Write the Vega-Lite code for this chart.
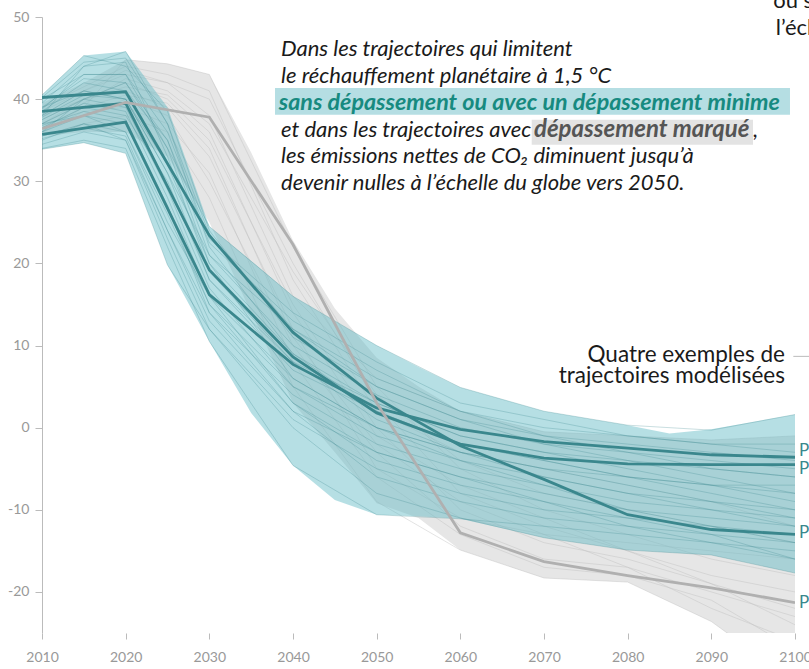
{
  "$schema": "https://vega.github.io/schema/vega-lite/v6.json",
  "width": 753,
  "height": 616,
  "autosize": {"type": "none"},
  "padding": {"left": 42, "top": 17, "right": 14, "bottom": 36},
  "background": "white",
  "config": {
    "view": {"stroke": null},
    "font": "Lato",
    "axis": {"labelFont": "Lato", "labelFontSize": 14, "labelColor": "#999999", "tickColor": "#bbbbbb", "domainColor": "#bbbbbb", "grid": false, "title": null}
  },
  "datasets": {
    "tealBand": [
      {"year": 2010, "lo": 33.9, "hi": 40.5},
      {"year": 2015, "lo": 34.7, "hi": 45.3},
      {"year": 2020, "lo": 33.4, "hi": 45.8},
      {"year": 2025, "lo": 19.8, "hi": 39.0},
      {"year": 2030, "lo": 10.5, "hi": 24.5},
      {"year": 2035, "lo": 1.8, "hi": 20.3},
      {"year": 2040, "lo": -4.6, "hi": 16.0},
      {"year": 2045, "lo": -8.8, "hi": 13.0},
      {"year": 2050, "lo": -10.6, "hi": 10.0},
      {"year": 2055, "lo": -10.8, "hi": 7.4},
      {"year": 2060, "lo": -11.1, "hi": 4.9},
      {"year": 2070, "lo": -13.4, "hi": 2.0},
      {"year": 2080, "lo": -14.9, "hi": 0.3},
      {"year": 2085, "lo": -15.2, "hi": -0.7},
      {"year": 2090, "lo": -15.5, "hi": -0.2},
      {"year": 2100, "lo": -17.7, "hi": 1.6}
    ],
    "grayBand": [
      {"year": 2010, "lo": 35.5, "hi": 39.5},
      {"year": 2015, "lo": 36, "hi": 42},
      {"year": 2020, "lo": 36, "hi": 44.8},
      {"year": 2025, "lo": 33, "hi": 44.3},
      {"year": 2030, "lo": 25, "hi": 43},
      {"year": 2035, "lo": 14, "hi": 33.5},
      {"year": 2040, "lo": 3, "hi": 22.8},
      {"year": 2045, "lo": -3, "hi": 14.5},
      {"year": 2050, "lo": -9.2, "hi": 8.5},
      {"year": 2055, "lo": -11, "hi": 5},
      {"year": 2060, "lo": -14.9, "hi": 2},
      {"year": 2070, "lo": -18.3, "hi": -0.5},
      {"year": 2080, "lo": -18.8, "hi": -1},
      {"year": 2090, "lo": -23.6, "hi": -1.5},
      {"year": 2100, "lo": -31, "hi": -1}
    ],
    "thin": [
      {"k":"t1","c":"low","x":2010,"v":40.5},{"k":"t1","c":"low","x":2015,"v":45.3},{"k":"t1","c":"low","x":2020,"v":44},{"k":"t1","c":"low","x":2025,"v":38.5},{"k":"t1","c":"low","x":2030,"v":24},{"k":"t1","c":"low","x":2040,"v":11},{"k":"t1","c":"low","x":2050,"v":5},{"k":"t1","c":"low","x":2060,"v":1},{"k":"t1","c":"low","x":2070,"v":-1},{"k":"t1","c":"low","x":2080,"v":-2},{"k":"t1","c":"low","x":2090,"v":-3},{"k":"t1","c":"low","x":2100,"v":-4},
      {"k":"t2","c":"low","x":2010,"v":38},{"k":"t2","c":"low","x":2015,"v":44},{"k":"t2","c":"low","x":2020,"v":45.8},{"k":"t2","c":"low","x":2025,"v":37},{"k":"t2","c":"low","x":2030,"v":22},{"k":"t2","c":"low","x":2040,"v":9},{"k":"t2","c":"low","x":2050,"v":3},{"k":"t2","c":"low","x":2060,"v":-1},{"k":"t2","c":"low","x":2070,"v":-3},{"k":"t2","c":"low","x":2080,"v":-5},{"k":"t2","c":"low","x":2090,"v":-7},{"k":"t2","c":"low","x":2100,"v":-9},
      {"k":"t3","c":"low","x":2010,"v":36},{"k":"t3","c":"low","x":2015,"v":40},{"k":"t3","c":"low","x":2020,"v":42},{"k":"t3","c":"low","x":2025,"v":34},{"k":"t3","c":"low","x":2030,"v":24.5},{"k":"t3","c":"low","x":2040,"v":16},{"k":"t3","c":"low","x":2050,"v":10},{"k":"t3","c":"low","x":2060,"v":4.9},{"k":"t3","c":"low","x":2070,"v":2},{"k":"t3","c":"low","x":2080,"v":0.3},{"k":"t3","c":"low","x":2090,"v":-0.3},{"k":"t3","c":"low","x":2100,"v":1.6},
      {"k":"t4","c":"low","x":2010,"v":34},{"k":"t4","c":"low","x":2015,"v":35},{"k":"t4","c":"low","x":2020,"v":34},{"k":"t4","c":"low","x":2025,"v":22},{"k":"t4","c":"low","x":2030,"v":10.5},{"k":"t4","c":"low","x":2040,"v":-4.6},{"k":"t4","c":"low","x":2050,"v":-10.6},{"k":"t4","c":"low","x":2060,"v":-11.1},{"k":"t4","c":"low","x":2070,"v":-12},{"k":"t4","c":"low","x":2080,"v":-13},{"k":"t4","c":"low","x":2090,"v":-14},{"k":"t4","c":"low","x":2100,"v":-15},
      {"k":"t5","c":"low","x":2010,"v":33.9},{"k":"t5","c":"low","x":2015,"v":34.7},{"k":"t5","c":"low","x":2020,"v":33.4},{"k":"t5","c":"low","x":2025,"v":19.8},{"k":"t5","c":"low","x":2030,"v":12},{"k":"t5","c":"low","x":2040,"v":0},{"k":"t5","c":"low","x":2050,"v":-8},{"k":"t5","c":"low","x":2060,"v":-11},{"k":"t5","c":"low","x":2070,"v":-13.4},{"k":"t5","c":"low","x":2080,"v":-14.9},{"k":"t5","c":"low","x":2090,"v":-15.5},{"k":"t5","c":"low","x":2100,"v":-17.7},
      {"k":"t6","c":"low","x":2010,"v":37},{"k":"t6","c":"low","x":2015,"v":38},{"k":"t6","c":"low","x":2020,"v":36},{"k":"t6","c":"low","x":2025,"v":26},{"k":"t6","c":"low","x":2030,"v":15},{"k":"t6","c":"low","x":2040,"v":3},{"k":"t6","c":"low","x":2050,"v":-3},{"k":"t6","c":"low","x":2060,"v":-6},{"k":"t6","c":"low","x":2070,"v":-8},{"k":"t6","c":"low","x":2080,"v":-10},{"k":"t6","c":"low","x":2090,"v":-11},{"k":"t6","c":"low","x":2100,"v":-12},
      {"k":"t7","c":"low","x":2010,"v":39},{"k":"t7","c":"low","x":2015,"v":41},{"k":"t7","c":"low","x":2020,"v":40},{"k":"t7","c":"low","x":2025,"v":32},{"k":"t7","c":"low","x":2030,"v":20},{"k":"t7","c":"low","x":2040,"v":6},{"k":"t7","c":"low","x":2050,"v":0},{"k":"t7","c":"low","x":2060,"v":-3},{"k":"t7","c":"low","x":2070,"v":-5},{"k":"t7","c":"low","x":2080,"v":-7},{"k":"t7","c":"low","x":2090,"v":-9},{"k":"t7","c":"low","x":2100,"v":-11},
      {"k":"t8","c":"low","x":2010,"v":36.5},{"k":"t8","c":"low","x":2015,"v":39},{"k":"t8","c":"low","x":2020,"v":38},{"k":"t8","c":"low","x":2025,"v":30},{"k":"t8","c":"low","x":2030,"v":18},{"k":"t8","c":"low","x":2040,"v":7},{"k":"t8","c":"low","x":2050,"v":2},{"k":"t8","c":"low","x":2060,"v":-2},{"k":"t8","c":"low","x":2070,"v":-4},{"k":"t8","c":"low","x":2080,"v":-6},{"k":"t8","c":"low","x":2090,"v":-8},{"k":"t8","c":"low","x":2100,"v":-10},
      {"k":"t9","c":"low","x":2010,"v":38.5},{"k":"t9","c":"low","x":2015,"v":42},{"k":"t9","c":"low","x":2020,"v":41},{"k":"t9","c":"low","x":2025,"v":35},{"k":"t9","c":"low","x":2030,"v":21},{"k":"t9","c":"low","x":2040,"v":12},{"k":"t9","c":"low","x":2050,"v":6},{"k":"t9","c":"low","x":2060,"v":2},{"k":"t9","c":"low","x":2070,"v":0},{"k":"t9","c":"low","x":2080,"v":-1},{"k":"t9","c":"low","x":2090,"v":-2},{"k":"t9","c":"low","x":2100,"v":-2},
      {"k":"t10","c":"low","x":2010,"v":35},{"k":"t10","c":"low","x":2015,"v":37},{"k":"t10","c":"low","x":2020,"v":35},{"k":"t10","c":"low","x":2025,"v":24},{"k":"t10","c":"low","x":2030,"v":13},{"k":"t10","c":"low","x":2040,"v":2},{"k":"t10","c":"low","x":2050,"v":-6},{"k":"t10","c":"low","x":2060,"v":-9},{"k":"t10","c":"low","x":2070,"v":-11},{"k":"t10","c":"low","x":2080,"v":-12},{"k":"t10","c":"low","x":2090,"v":-13},{"k":"t10","c":"low","x":2100,"v":-14},
      {"k":"t11","c":"low","x":2010,"v":40},{"k":"t11","c":"low","x":2015,"v":43},{"k":"t11","c":"low","x":2020,"v":43},{"k":"t11","c":"low","x":2025,"v":36},{"k":"t11","c":"low","x":2030,"v":23},{"k":"t11","c":"low","x":2040,"v":14},{"k":"t11","c":"low","x":2050,"v":8},{"k":"t11","c":"low","x":2060,"v":3},{"k":"t11","c":"low","x":2070,"v":1},{"k":"t11","c":"low","x":2080,"v":-1},{"k":"t11","c":"low","x":2090,"v":-2},{"k":"t11","c":"low","x":2100,"v":-3},
      {"k":"t12","c":"low","x":2010,"v":37.5},{"k":"t12","c":"low","x":2015,"v":40},{"k":"t12","c":"low","x":2020,"v":39},{"k":"t12","c":"low","x":2025,"v":29},{"k":"t12","c":"low","x":2030,"v":17},{"k":"t12","c":"low","x":2040,"v":5},{"k":"t12","c":"low","x":2050,"v":-1},{"k":"t12","c":"low","x":2060,"v":-4},{"k":"t12","c":"low","x":2070,"v":-6},{"k":"t12","c":"low","x":2080,"v":-8},{"k":"t12","c":"low","x":2090,"v":-9},{"k":"t12","c":"low","x":2100,"v":-10},
      {"k":"t13","c":"low","x":2010,"v":39.5},{"k":"t13","c":"low","x":2015,"v":44},{"k":"t13","c":"low","x":2020,"v":44.5},{"k":"t13","c":"low","x":2025,"v":33},{"k":"t13","c":"low","x":2030,"v":19},{"k":"t13","c":"low","x":2040,"v":8},{"k":"t13","c":"low","x":2050,"v":1},{"k":"t13","c":"low","x":2060,"v":-3},{"k":"t13","c":"low","x":2070,"v":-6},{"k":"t13","c":"low","x":2080,"v":-8},{"k":"t13","c":"low","x":2090,"v":-10},{"k":"t13","c":"low","x":2100,"v":-12},
      {"k":"t14","c":"low","x":2010,"v":36},{"k":"t14","c":"low","x":2015,"v":38},{"k":"t14","c":"low","x":2020,"v":37},{"k":"t14","c":"low","x":2025,"v":27},{"k":"t14","c":"low","x":2030,"v":14},{"k":"t14","c":"low","x":2040,"v":4},{"k":"t14","c":"low","x":2050,"v":-2},{"k":"t14","c":"low","x":2060,"v":-5},{"k":"t14","c":"low","x":2070,"v":-7},{"k":"t14","c":"low","x":2080,"v":-9},{"k":"t14","c":"low","x":2090,"v":-10},{"k":"t14","c":"low","x":2100,"v":-11},
      {"k":"t15","c":"low","x":2010,"v":38},{"k":"t15","c":"low","x":2015,"v":41},{"k":"t15","c":"low","x":2020,"v":40},{"k":"t15","c":"low","x":2025,"v":31},{"k":"t15","c":"low","x":2030,"v":21},{"k":"t15","c":"low","x":2040,"v":10},{"k":"t15","c":"low","x":2050,"v":4},{"k":"t15","c":"low","x":2060,"v":0},{"k":"t15","c":"low","x":2070,"v":-2},{"k":"t15","c":"low","x":2080,"v":-3},{"k":"t15","c":"low","x":2090,"v":-4},{"k":"t15","c":"low","x":2100,"v":-5},
      {"k":"t16","c":"low","x":2010,"v":35.5},{"k":"t16","c":"low","x":2015,"v":37},{"k":"t16","c":"low","x":2020,"v":36},{"k":"t16","c":"low","x":2025,"v":25},{"k":"t16","c":"low","x":2030,"v":16},{"k":"t16","c":"low","x":2040,"v":6},{"k":"t16","c":"low","x":2050,"v":0},{"k":"t16","c":"low","x":2060,"v":-4},{"k":"t16","c":"low","x":2070,"v":-7},{"k":"t16","c":"low","x":2080,"v":-10},{"k":"t16","c":"low","x":2090,"v":-12},{"k":"t16","c":"low","x":2100,"v":-14},
      {"k":"t17","c":"low","x":2010,"v":39},{"k":"t17","c":"low","x":2015,"v":42.5},{"k":"t17","c":"low","x":2020,"v":42},{"k":"t17","c":"low","x":2025,"v":35},{"k":"t17","c":"low","x":2030,"v":22.5},{"k":"t17","c":"low","x":2040,"v":13},{"k":"t17","c":"low","x":2050,"v":7},{"k":"t17","c":"low","x":2060,"v":2},{"k":"t17","c":"low","x":2070,"v":-1},{"k":"t17","c":"low","x":2080,"v":-3},{"k":"t17","c":"low","x":2090,"v":-5},{"k":"t17","c":"low","x":2100,"v":-6},
      {"k":"t18","c":"low","x":2010,"v":37},{"k":"t18","c":"low","x":2015,"v":39.5},{"k":"t18","c":"low","x":2020,"v":38.5},{"k":"t18","c":"low","x":2025,"v":28},{"k":"t18","c":"low","x":2030,"v":16},{"k":"t18","c":"low","x":2040,"v":3},{"k":"t18","c":"low","x":2050,"v":-4},{"k":"t18","c":"low","x":2060,"v":-7},{"k":"t18","c":"low","x":2070,"v":-9},{"k":"t18","c":"low","x":2080,"v":-11},{"k":"t18","c":"low","x":2090,"v":-12},{"k":"t18","c":"low","x":2100,"v":-13},
      {"k":"t19","c":"low","x":2010,"v":34.5},{"k":"t19","c":"low","x":2015,"v":36},{"k":"t19","c":"low","x":2020,"v":35},{"k":"t19","c":"low","x":2025,"v":23},{"k":"t19","c":"low","x":2030,"v":12},{"k":"t19","c":"low","x":2040,"v":1},{"k":"t19","c":"low","x":2050,"v":-5},{"k":"t19","c":"low","x":2060,"v":-8},{"k":"t19","c":"low","x":2070,"v":-10},{"k":"t19","c":"low","x":2080,"v":-11},{"k":"t19","c":"low","x":2090,"v":-13},{"k":"t19","c":"low","x":2100,"v":-16},
      {"k":"t20","c":"low","x":2010,"v":38.8},{"k":"t20","c":"low","x":2015,"v":43},{"k":"t20","c":"low","x":2020,"v":43},{"k":"t20","c":"low","x":2025,"v":34},{"k":"t20","c":"low","x":2030,"v":20},{"k":"t20","c":"low","x":2040,"v":9},{"k":"t20","c":"low","x":2050,"v":2},{"k":"t20","c":"low","x":2060,"v":-2},{"k":"t20","c":"low","x":2070,"v":-4},{"k":"t20","c":"low","x":2080,"v":-6},{"k":"t20","c":"low","x":2090,"v":-7},{"k":"t20","c":"low","x":2100,"v":-8},
      {"k":"t21","c":"low","x":2010,"v":36.8},{"k":"t21","c":"low","x":2015,"v":38.5},{"k":"t21","c":"low","x":2020,"v":37.5},{"k":"t21","c":"low","x":2025,"v":27},{"k":"t21","c":"low","x":2030,"v":15},{"k":"t21","c":"low","x":2040,"v":5},{"k":"t21","c":"low","x":2050,"v":0},{"k":"t21","c":"low","x":2060,"v":-3},{"k":"t21","c":"low","x":2070,"v":-5},{"k":"t21","c":"low","x":2080,"v":-6},{"k":"t21","c":"low","x":2090,"v":-7},{"k":"t21","c":"low","x":2100,"v":-7},
      {"k":"t22","c":"low","x":2010,"v":40.2},{"k":"t22","c":"low","x":2015,"v":44.5},{"k":"t22","c":"low","x":2020,"v":45},{"k":"t22","c":"low","x":2025,"v":37},{"k":"t22","c":"low","x":2030,"v":23.5},{"k":"t22","c":"low","x":2040,"v":12},{"k":"t22","c":"low","x":2050,"v":5},{"k":"t22","c":"low","x":2060,"v":1},{"k":"t22","c":"low","x":2070,"v":-2},{"k":"t22","c":"low","x":2080,"v":-4},{"k":"t22","c":"low","x":2090,"v":-6},{"k":"t22","c":"low","x":2100,"v":-8},
      {"k":"t23","c":"low","x":2010,"v":35.2},{"k":"t23","c":"low","x":2015,"v":36.5},{"k":"t23","c":"low","x":2020,"v":35.5},{"k":"t23","c":"low","x":2025,"v":24},{"k":"t23","c":"low","x":2030,"v":14},{"k":"t23","c":"low","x":2040,"v":2},{"k":"t23","c":"low","x":2050,"v":-3},{"k":"t23","c":"low","x":2060,"v":-6},{"k":"t23","c":"low","x":2070,"v":-9},{"k":"t23","c":"low","x":2080,"v":-12},{"k":"t23","c":"low","x":2090,"v":-14},{"k":"t23","c":"low","x":2100,"v":-16},
      {"k":"t24","c":"low","x":2010,"v":37.8},{"k":"t24","c":"low","x":2015,"v":40.5},{"k":"t24","c":"low","x":2020,"v":40},{"k":"t24","c":"low","x":2025,"v":31},{"k":"t24","c":"low","x":2030,"v":18},{"k":"t24","c":"low","x":2040,"v":8},{"k":"t24","c":"low","x":2050,"v":3},{"k":"t24","c":"low","x":2060,"v":-1},{"k":"t24","c":"low","x":2070,"v":-3},{"k":"t24","c":"low","x":2080,"v":-4},{"k":"t24","c":"low","x":2090,"v":-5},{"k":"t24","c":"low","x":2100,"v":-6},
      {"k":"g1","c":"high","x":2010,"v":36},{"k":"g1","c":"high","x":2015,"v":39},{"k":"g1","c":"high","x":2020,"v":44.8},{"k":"g1","c":"high","x":2025,"v":44.3},{"k":"g1","c":"high","x":2030,"v":43},{"k":"g1","c":"high","x":2040,"v":22},{"k":"g1","c":"high","x":2050,"v":5},{"k":"g1","c":"high","x":2060,"v":-5},{"k":"g1","c":"high","x":2070,"v":-10},{"k":"g1","c":"high","x":2080,"v":-13},{"k":"g1","c":"high","x":2090,"v":-16},{"k":"g1","c":"high","x":2100,"v":-18},
      {"k":"g2","c":"high","x":2010,"v":38},{"k":"g2","c":"high","x":2015,"v":41},{"k":"g2","c":"high","x":2020,"v":43},{"k":"g2","c":"high","x":2025,"v":42},{"k":"g2","c":"high","x":2030,"v":40},{"k":"g2","c":"high","x":2040,"v":20},{"k":"g2","c":"high","x":2050,"v":3},{"k":"g2","c":"high","x":2060,"v":-8},{"k":"g2","c":"high","x":2070,"v":-12},{"k":"g2","c":"high","x":2080,"v":-15},{"k":"g2","c":"high","x":2090,"v":-18},{"k":"g2","c":"high","x":2100,"v":-20},
      {"k":"g3","c":"high","x":2010,"v":37},{"k":"g3","c":"high","x":2015,"v":40},{"k":"g3","c":"high","x":2020,"v":42},{"k":"g3","c":"high","x":2025,"v":40},{"k":"g3","c":"high","x":2030,"v":35},{"k":"g3","c":"high","x":2040,"v":15},{"k":"g3","c":"high","x":2050,"v":0},{"k":"g3","c":"high","x":2060,"v":-10},{"k":"g3","c":"high","x":2070,"v":-14},{"k":"g3","c":"high","x":2080,"v":-16},{"k":"g3","c":"high","x":2090,"v":-19},{"k":"g3","c":"high","x":2100,"v":-22},
      {"k":"g4","c":"high","x":2010,"v":36.5},{"k":"g4","c":"high","x":2015,"v":38},{"k":"g4","c":"high","x":2020,"v":40},{"k":"g4","c":"high","x":2025,"v":38},{"k":"g4","c":"high","x":2030,"v":30},{"k":"g4","c":"high","x":2040,"v":10},{"k":"g4","c":"high","x":2050,"v":-3},{"k":"g4","c":"high","x":2060,"v":-12},{"k":"g4","c":"high","x":2070,"v":-16},{"k":"g4","c":"high","x":2080,"v":-17},{"k":"g4","c":"high","x":2090,"v":-20},{"k":"g4","c":"high","x":2100,"v":-23},
      {"k":"g5","c":"high","x":2010,"v":39},{"k":"g5","c":"high","x":2015,"v":41.5},{"k":"g5","c":"high","x":2020,"v":44},{"k":"g5","c":"high","x":2025,"v":43},{"k":"g5","c":"high","x":2030,"v":41},{"k":"g5","c":"high","x":2040,"v":18},{"k":"g5","c":"high","x":2050,"v":2},{"k":"g5","c":"high","x":2060,"v":-3},{"k":"g5","c":"high","x":2070,"v":-5},{"k":"g5","c":"high","x":2080,"v":-7},{"k":"g5","c":"high","x":2090,"v":-9},{"k":"g5","c":"high","x":2100,"v":-12},
      {"k":"g6","c":"high","x":2010,"v":35.5},{"k":"g6","c":"high","x":2015,"v":37},{"k":"g6","c":"high","x":2020,"v":38},{"k":"g6","c":"high","x":2025,"v":36},{"k":"g6","c":"high","x":2030,"v":28},{"k":"g6","c":"high","x":2040,"v":5},{"k":"g6","c":"high","x":2050,"v":-9},{"k":"g6","c":"high","x":2060,"v":-14.9},{"k":"g6","c":"high","x":2070,"v":-18.3},{"k":"g6","c":"high","x":2080,"v":-18.8},{"k":"g6","c":"high","x":2090,"v":-23.6},{"k":"g6","c":"high","x":2100,"v":-31},
      {"k":"g7","c":"high","x":2010,"v":37.5},{"k":"g7","c":"high","x":2015,"v":40},{"k":"g7","c":"high","x":2020,"v":41},{"k":"g7","c":"high","x":2025,"v":39},{"k":"g7","c":"high","x":2030,"v":33},{"k":"g7","c":"high","x":2040,"v":12},{"k":"g7","c":"high","x":2050,"v":-5},{"k":"g7","c":"high","x":2060,"v":-11},{"k":"g7","c":"high","x":2070,"v":-13},{"k":"g7","c":"high","x":2080,"v":-14},{"k":"g7","c":"high","x":2090,"v":-15},{"k":"g7","c":"high","x":2100,"v":-16},
      {"k":"g8","c":"high","x":2010,"v":38.5},{"k":"g8","c":"high","x":2015,"v":41},{"k":"g8","c":"high","x":2020,"v":43.5},{"k":"g8","c":"high","x":2025,"v":42},{"k":"g8","c":"high","x":2030,"v":38},{"k":"g8","c":"high","x":2040,"v":16},{"k":"g8","c":"high","x":2050,"v":6},{"k":"g8","c":"high","x":2060,"v":2},{"k":"g8","c":"high","x":2070,"v":-0.5},{"k":"g8","c":"high","x":2080,"v":-1},{"k":"g8","c":"high","x":2090,"v":-1.5},{"k":"g8","c":"high","x":2100,"v":-1},
      {"k":"g9","c":"high","x":2010,"v":36},{"k":"g9","c":"high","x":2015,"v":38.5},{"k":"g9","c":"high","x":2020,"v":39},{"k":"g9","c":"high","x":2025,"v":37},{"k":"g9","c":"high","x":2030,"v":31},{"k":"g9","c":"high","x":2040,"v":8},{"k":"g9","c":"high","x":2050,"v":-6},{"k":"g9","c":"high","x":2060,"v":-13},{"k":"g9","c":"high","x":2070,"v":-17},{"k":"g9","c":"high","x":2080,"v":-18},{"k":"g9","c":"high","x":2090,"v":-21},{"k":"g9","c":"high","x":2100,"v":-27},
      {"k":"g10","c":"high","x":2010,"v":37},{"k":"g10","c":"high","x":2015,"v":39.5},{"k":"g10","c":"high","x":2020,"v":42.5},{"k":"g10","c":"high","x":2025,"v":41},{"k":"g10","c":"high","x":2030,"v":37},{"k":"g10","c":"high","x":2040,"v":19},{"k":"g10","c":"high","x":2050,"v":4},{"k":"g10","c":"high","x":2060,"v":-4},{"k":"g10","c":"high","x":2070,"v":-8},{"k":"g10","c":"high","x":2080,"v":-10},{"k":"g10","c":"high","x":2090,"v":-12},{"k":"g10","c":"high","x":2100,"v":-14},
      {"k":"g11","c":"high","x":2010,"v":38},{"k":"g11","c":"high","x":2015,"v":40},{"k":"g11","c":"high","x":2020,"v":41.5},{"k":"g11","c":"high","x":2025,"v":40.5},{"k":"g11","c":"high","x":2030,"v":36},{"k":"g11","c":"high","x":2040,"v":14},{"k":"g11","c":"high","x":2050,"v":-1},{"k":"g11","c":"high","x":2060,"v":-7},{"k":"g11","c":"high","x":2070,"v":-11},{"k":"g11","c":"high","x":2080,"v":-15},{"k":"g11","c":"high","x":2090,"v":-19},{"k":"g11","c":"high","x":2100,"v":-24},
      {"k":"g12","c":"high","x":2010,"v":36.5},{"k":"g12","c":"high","x":2015,"v":39},{"k":"g12","c":"high","x":2020,"v":40.5},{"k":"g12","c":"high","x":2025,"v":39.5},{"k":"g12","c":"high","x":2030,"v":34},{"k":"g12","c":"high","x":2040,"v":11},{"k":"g12","c":"high","x":2050,"v":-2},{"k":"g12","c":"high","x":2060,"v":-9},{"k":"g12","c":"high","x":2070,"v":-13},{"k":"g12","c":"high","x":2080,"v":-17},{"k":"g12","c":"high","x":2090,"v":-22},{"k":"g12","c":"high","x":2100,"v":-26}
    ],
    "thick": [
      {"p":"P1","x":2010,"v":35.7},{"p":"P1","x":2020,"v":37.2},{"p":"P1","x":2030,"v":16.2},{"p":"P1","x":2040,"v":7.7},{"p":"P1","x":2050,"v":2.4},{"p":"P1","x":2060,"v":-0.2},{"p":"P1","x":2070,"v":-1.7},{"p":"P1","x":2080,"v":-2.5},{"p":"P1","x":2090,"v":-3.3},{"p":"P1","x":2100,"v":-3.6},
      {"p":"P2","x":2010,"v":38.5},{"p":"P2","x":2020,"v":39.5},{"p":"P2","x":2030,"v":19.2},{"p":"P2","x":2040,"v":8.6},{"p":"P2","x":2050,"v":1.8},{"p":"P2","x":2060,"v":-2.0},{"p":"P2","x":2070,"v":-3.7},{"p":"P2","x":2080,"v":-4.4},{"p":"P2","x":2090,"v":-4.5},{"p":"P2","x":2100,"v":-4.5},
      {"p":"P3","x":2010,"v":40.2},{"p":"P3","x":2020,"v":40.9},{"p":"P3","x":2030,"v":23.4},{"p":"P3","x":2040,"v":11.6},{"p":"P3","x":2050,"v":3.6},{"p":"P3","x":2060,"v":-2.2},{"p":"P3","x":2070,"v":-6.3},{"p":"P3","x":2080,"v":-10.6},{"p":"P3","x":2090,"v":-12.4},{"p":"P3","x":2100,"v":-13.0},
      {"p":"P4","x":2010,"v":36.4},{"p":"P4","x":2020,"v":39.6},{"p":"P4","x":2030,"v":37.8},{"p":"P4","x":2040,"v":22.3},{"p":"P4","x":2050,"v":3.0},{"p":"P4","x":2060,"v":-12.8},{"p":"P4","x":2070,"v":-16.3},{"p":"P4","x":2080,"v":-18.0},{"p":"P4","x":2090,"v":-19.5},{"p":"P4","x":2100,"v":-21.3}
    ],
    "plabels": [
      {"p":"P1","x":2100,"v":-2.9},{"p":"P2","x":2100,"v":-5.0},{"p":"P3","x":2100,"v":-12.8},{"p":"P4","x":2100,"v":-21.3}
    ],
    "boxTeal": [{"x":2037.85,"x2":2099.4,"v":41.36,"v2":38.11}],
    "boxGray": [{"x":2068.53,"x2":2094.98,"v":37.5,"v2":34.46}],
    "noteItalic": [
      {"t":"Dans les trajectoires qui limitent","x":2038.57,"v":45.23},
      {"t":"le réchauffement planétaire à 1,5 °C","x":2038.57,"v":41.97},
      {"t":"et dans les trajectoires avec","x":2038.57,"v":35.44},
      {"t":",","x":2095.0,"v":35.44},
      {"t":"les émissions nettes de CO₂ diminuent jusqu’à","x":2038.57,"v":32.18},
      {"t":"devenir nulles à l’échelle du globe vers 2050.","x":2038.57,"v":28.92}
    ],
    "noteTeal": [{"t":"sans dépassement ou avec un dépassement minime","x":2038.3,"v":38.71}],
    "noteGray": [{"t":"dépassement marqué","x":2068.8,"v":35.44}],
    "noteRight": [
      {"t":"Quatre exemples de","x":2098.8,"v":8.05},
      {"t":"trajectoires modélisées","x":2098.8,"v":5.43}
    ],
    "noteTop": [
      {"t":"ou sans","x":2097.4,"v":51.14},
      {"t":"l’échelle","x":2097.7,"v":47.85}
    ],
    "leader": [{"x":2099.8,"x2":2103,"v":8.68}]
  },
  "layer": [
    {
      "data": {"name": "grayBand"},
      "mark": {"type": "area", "color": "#e6e6e6", "opacity": 1, "clip": true},
      "encoding": {
        "x": {"field": "year", "type": "quantitative", "scale": {"domain": [2010, 2100], "nice": false, "zero": false},
              "axis": {"values": [2010,2020,2030,2040,2050,2060,2070,2080,2090,2100], "format": "d", "domain": false, "tickSize": 6, "labelPadding": 11, "labelFlush": false, "labelOverlap": false}},
        "y": {"field": "lo", "type": "quantitative", "scale": {"domain": [-25, 50], "nice": false, "zero": false},
              "axis": {"values": [-20,-10,0,10,20,30,40,50], "tickSize": 7, "labelPadding": 6, "domain": true, "labelExpr": "replace(datum.label, '−', '-')"}},
        "y2": {"field": "hi"}
      }
    },
    {
      "data": {"name": "thin"},
      "transform": [{"filter": "datum.c === 'high'"}],
      "mark": {"type": "line", "color": "#c2c2c2", "strokeWidth": 1, "opacity": 0.45, "clip": true},
      "encoding": {
        "x": {"field": "x", "type": "quantitative"},
        "y": {"field": "v", "type": "quantitative"},
        "detail": {"field": "k"}
      }
    },
    {
      "data": {"name": "tealBand"},
      "mark": {"type": "area", "color": "#60b9c4", "opacity": 0.46, "clip": true},
      "encoding": {
        "x": {"field": "year", "type": "quantitative"},
        "y": {"field": "lo", "type": "quantitative"},
        "y2": {"field": "hi"}
      }
    },
    {
      "data": {"name": "thin"},
      "transform": [{"filter": "datum.c === 'low'"}],
      "mark": {"type": "line", "color": "#3d8a8f", "strokeWidth": 1, "opacity": 0.28, "clip": true},
      "encoding": {
        "x": {"field": "x", "type": "quantitative"},
        "y": {"field": "v", "type": "quantitative"},
        "detail": {"field": "k"}
      }
    },
    {
      "mark": {"type": "rule", "color": "#bbbbbb", "strokeWidth": 1},
      "encoding": {"y": {"datum": 0}}
    },
    {
      "data": {"name": "thick"},
      "mark": {"type": "line", "strokeWidth": 2.8, "clip": true},
      "encoding": {
        "x": {"field": "x", "type": "quantitative"},
        "y": {"field": "v", "type": "quantitative"},
        "detail": {"field": "p"},
        "color": {"field": "p", "type": "nominal", "scale": {"domain": ["P4","P1","P2","P3"], "range": ["#b0b0b0","#3a878d","#3a878d","#3a878d"]}, "legend": null},
        "order": {"field": "x"}
      }
    },
    {
      "data": {"name": "plabels"},
      "mark": {"type": "text", "align": "left", "baseline": "middle", "dx": 4, "fontSize": 17, "font": "Lato", "color": "#3a878d"},
      "encoding": {
        "x": {"field": "x", "type": "quantitative"},
        "y": {"field": "v", "type": "quantitative"},
        "text": {"field": "p"}
      }
    },
    {
      "data": {"name": "boxTeal"},
      "mark": {"type": "rect", "color": "#b5dee3"},
      "encoding": {
        "x": {"field": "x", "type": "quantitative"},
        "x2": {"field": "x2"},
        "y": {"field": "v", "type": "quantitative"},
        "y2": {"field": "v2"}
      }
    },
    {
      "data": {"name": "boxGray"},
      "mark": {"type": "rect", "color": "#e3e3e3"},
      "encoding": {
        "x": {"field": "x", "type": "quantitative"},
        "x2": {"field": "x2"},
        "y": {"field": "v", "type": "quantitative"},
        "y2": {"field": "v2"}
      }
    },
    {
      "data": {"name": "noteItalic"},
      "mark": {"type": "text", "align": "left", "baseline": "alphabetic", "fontSize": 22, "fontStyle": "italic", "font": "Lato", "color": "#1a1a1a"},
      "encoding": {
        "x": {"field": "x", "type": "quantitative"},
        "y": {"field": "v", "type": "quantitative"},
        "text": {"field": "t"}
      }
    },
    {
      "data": {"name": "noteTeal"},
      "mark": {"type": "text", "align": "left", "baseline": "alphabetic", "fontSize": 23.3, "fontStyle": "italic", "fontWeight": "bold", "font": "Lato", "color": "#178a80"},
      "encoding": {
        "x": {"field": "x", "type": "quantitative"},
        "y": {"field": "v", "type": "quantitative"},
        "text": {"field": "t"}
      }
    },
    {
      "data": {"name": "noteGray"},
      "mark": {"type": "text", "align": "left", "baseline": "alphabetic", "fontSize": 24, "fontStyle": "italic", "fontWeight": "bold", "font": "Lato", "color": "#555555"},
      "encoding": {
        "x": {"field": "x", "type": "quantitative"},
        "y": {"field": "v", "type": "quantitative"},
        "text": {"field": "t"}
      }
    },
    {
      "data": {"name": "noteRight"},
      "mark": {"type": "text", "align": "right", "baseline": "alphabetic", "fontSize": 22.5, "font": "Lato", "color": "#1a1a1a"},
      "encoding": {
        "x": {"field": "x", "type": "quantitative"},
        "y": {"field": "v", "type": "quantitative"},
        "text": {"field": "t"}
      }
    },
    {
      "data": {"name": "noteTop"},
      "mark": {"type": "text", "align": "left", "baseline": "alphabetic", "fontSize": 22, "font": "Lato", "color": "#1a1a1a"},
      "encoding": {
        "x": {"field": "x", "type": "quantitative"},
        "y": {"field": "v", "type": "quantitative"},
        "text": {"field": "t"}
      }
    },
    {
      "data": {"name": "leader"},
      "mark": {"type": "rule", "color": "#bbbbbb", "strokeWidth": 1},
      "encoding": {
        "x": {"field": "x", "type": "quantitative"},
        "x2": {"field": "x2"},
        "y": {"field": "v", "type": "quantitative"}
      }
    }
  ]
}
